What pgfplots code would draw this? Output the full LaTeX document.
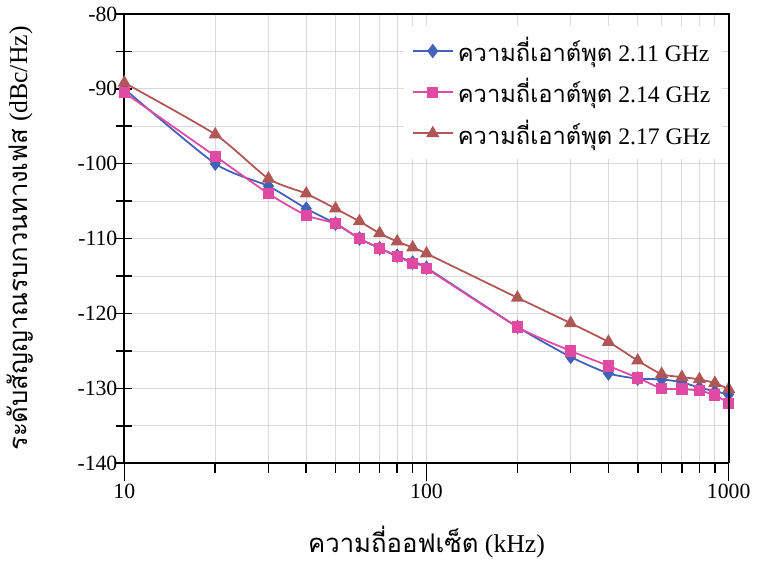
\documentclass[border=0pt]{standalone}
\usepackage{fontspec}
\setmainfont{Liberation Serif}
\newfontfamily\thai[Script=Thai]{Loma}
\usepackage{pgfplots}
\pgfplotsset{compat=1.18}
\definecolor{cblue}{HTML}{4262B8}
\definecolor{cpink}{HTML}{E04AA2}
\definecolor{cbrown}{HTML}{B05656}
\begin{document}
\begin{tikzpicture}
\begin{axis}[
  at={(0,0)}, anchor=south west,
  scale only axis, width=306pt, height=227.5pt,
  xmode=log, log basis x=10,
  xmin=10, xmax=1000, ymin=-140, ymax=-80,
  xtick={10,100,1000}, xticklabels={10,100,1000},
  minor xtick={20,30,40,50,60,70,80,90,200,300,400,500,600,700,800,900},
  ytick={-140,-130,-120,-110,-100,-90,-80},
  yticklabels={-140,-130,-120,-110,-100,-90,-80},
  minor ytick={-135,-125,-115,-105,-95,-85},
  grid=both,
  major grid style={gray!30, line width=0.4pt},
  minor grid style={gray!30, line width=0.4pt},
  axis line style={line width=1pt},
  every tick/.style={black, line width=0.8pt},
  xtick align=outside, ytick align=center,
  major tick length=9pt, minor tick length=5pt,
  y tick style={/pgfplots/major tick length=8pt,/pgfplots/minor tick length=8pt},
  tick label style={font=\fontsize{11}{13}\selectfont},
  xticklabel style={yshift=2pt},
  yticklabel style={xshift=4.5pt},
  axis x line*=bottom, axis y line*=left,
  xlabel={{\thai ความถี่ออฟเซ็ต} (kHz)},
  ylabel={{\thai ระดับสัญญาณรบกวนทางเฟส} (dBc/Hz)},
  label style={font=\fontsize{13}{15}\selectfont},
  xlabel style={at={(axis description cs:0.5,0)}, anchor=center, yshift=-40pt},
  ylabel style={at={(axis description cs:-0.173,0.5)}, anchor=center},
  legend style={at={(0.99,0.975)}, anchor=north east, draw=none, fill=white,
    font=\fontsize{12}{15}\selectfont, row sep=3pt, inner sep=4pt},
  legend cell align=left,
  legend image code/.code={\draw[mark repeat=2,mark phase=2] plot coordinates {(0cm,0cm) (0.36cm,0cm) (0.72cm,0cm)};},
  every axis plot/.append style={line width=0.9pt, smooth, tension=0.4},
]
\addplot[cblue, mark=diamond*, mark size=3pt, mark options={fill=cblue}] coordinates {
 (10,-90) (20,-100) (30,-103) (40,-106) (50,-108) (60,-110) (70,-111.3) (80,-112.3) (90,-113.2) (100,-113.9)
 (200,-121.8) (300,-125.8) (400,-128) (500,-128.7) (600,-128.8) (700,-129.2) (800,-129.9) (900,-130.4) (1000,-130.8)};
\addlegendentry{{\thai ความถี่เอาต์พุต} 2.11 GHz}
\addplot[cpink, mark=square*, mark size=2.4pt, mark options={fill=cpink}] coordinates {
 (10,-90.5) (20,-99) (30,-104) (40,-106.9) (50,-108) (60,-110) (70,-111.3) (80,-112.4) (90,-113.3) (100,-114)
 (200,-121.8) (300,-125) (400,-127) (500,-128.6) (600,-130) (700,-130.1) (800,-130.3) (900,-130.9) (1000,-132)};
\addlegendentry{{\thai ความถี่เอาต์พุต} 2.14 GHz}
\addplot[cbrown, mark=triangle*, mark size=3pt, mark options={fill=cbrown}] coordinates {
 (10,-89.2) (20,-96.1) (30,-102) (40,-104) (50,-106) (60,-107.7) (70,-109.3) (80,-110.4) (90,-111.2) (100,-112)
 (200,-117.9) (300,-121.3) (400,-123.8) (500,-126.3) (600,-128.1) (700,-128.5) (800,-128.8) (900,-129.3) (1000,-130.1)};
\addlegendentry{{\thai ความถี่เอาต์พุต} 2.17 GHz}
\end{axis}
\draw[line width=1pt] (0,227.5pt) -- (306pt,227.5pt) -- (306pt,0);
\path (-62pt,-45.5pt) rectangle (316.5pt,234pt);
\end{tikzpicture}
\end{document}
